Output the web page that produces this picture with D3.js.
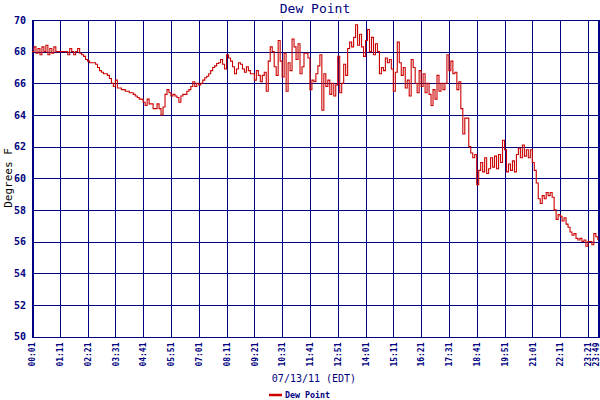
<!DOCTYPE html>
<html>
<head>
<meta charset="utf-8">
<script src="https://cdn.jsdelivr.net/npm/d3@7"></script>
<style>
  html, body { margin: 0; padding: 0; background: #ffffff; }
  svg { display: block; }
</style>
</head>
<body>
<svg id="chart" width="600" height="400"></svg>
<script>
// ---- data ----
const startMinute = 1;        // 00:01
const stepMinutes = 5;
const endMinute = 1429;       // 23:49
const dewPoint = [
  68.0,68.3,67.9,68.2,67.8,68.3,68.0,68.4,67.8,68.2,
  67.9,68.3,68.0,68.0,68.0,68.0,68.0,68.0,67.8,68.2,
  68.0,67.8,68.0,68.2,67.9,67.8,67.7,67.5,67.4,67.3,
  67.3,67.3,67.2,67.0,66.8,66.7,66.6,66.6,66.5,66.3,
  66.0,65.8,66.2,65.7,65.7,65.6,65.6,65.5,65.5,65.4,
  65.4,65.3,65.2,65.1,65.0,65.0,64.8,64.6,65.0,64.7,
  64.7,64.4,64.4,64.7,64.4,64.0,64.5,65.3,65.6,65.4,
  65.2,65.3,65.2,65.1,64.8,65.2,65.3,65.3,65.5,65.6,
  65.8,66.1,65.8,66.0,65.9,66.0,66.2,66.35,66.45,66.6,
  66.8,67.0,67.1,67.25,67.3,67.5,67.2,66.9,67.8,67.6,
  67.4,67.05,66.6,66.9,67.3,67.2,66.9,66.7,67.05,66.8,
  66.6,66.6,66.2,66.8,66.5,66.1,66.5,66.7,65.5,67.4,
  68.3,68.0,67.05,66.5,68.7,67.4,66.4,67.9,65.5,67.3,
  66.8,68.8,68.3,67.5,68.5,66.6,67.05,67.9,67.9,67.6,
  65.6,66.2,66.1,66.6,67.1,67.8,64.3,66.6,65.8,66.2,
  65.3,66.0,65.2,65.9,67.7,65.4,66.0,67.2,66.5,68.2,
  68.6,68.3,68.9,69.7,68.4,69.1,68.3,67.7,68.7,69.4,
  68.0,68.9,67.8,68.5,68.0,66.6,67.0,66.8,67.6,67.3,
  67.5,66.9,65.5,66.7,68.6,67.3,66.5,67.0,65.7,66.2,
  65.2,67.5,67.0,66.0,65.4,66.8,65.8,66.6,65.4,66.0,
  65.3,64.6,65.6,65.0,66.5,65.5,66.0,65.6,66.0,67.8,
  66.8,67.4,66.6,66.7,65.6,66.1,64.4,62.8,63.8,63.8,
  62.0,61.6,61.3,61.5,59.6,60.5,61.0,60.4,61.3,60.3,
  60.6,61.3,60.7,61.4,60.6,61.5,61.0,62.4,61.8,60.4,
  60.9,60.5,61.1,60.4,61.5,61.9,61.3,62.1,61.4,61.8,
  61.3,61.8,61.0,60.5,59.7,58.7,58.4,58.9,58.7,59.1,
  58.9,59.1,58.8,58.0,57.4,57.7,57.6,57.3,57.5,57.1,
  56.9,56.6,56.4,56.5,56.2,56.1,56.2,56.0,56.1,55.7,
  56.0,56.0,55.8,56.5,56.3,56.1
];
const tickMinutes = [1,71,141,211,281,351,421,491,561,631,701,771,841,911,981,1051,1121,1191,1261,1331,1401,1429];
const tickLabels = ["00:01","01:11","02:21","03:31","04:41","05:51","07:01","08:11","09:21","10:31","11:41","12:51","14:01","15:11","16:21","17:31","18:41","19:51","21:01","22:11","23:21","23:49"];
const yTicks = [50,52,54,56,58,60,62,64,66,68,70];
const chartTitle = "Dew Point";
const xTitle = "07/13/11 (EDT)";
const yTitle = "Degrees F";
const seriesName = "Dew Point";

// ---- drawing ----
(function draw() {
  const navy = "#000080";
  const red = "#cc0000";
  const svg = d3.select("#chart");
  const pLeft = 32, pRight = 599, pTop = 20, pBottom = 336.5;

  const x = d3.scaleLinear().domain([startMinute, endMinute]).range([pLeft, pRight]);
  const y = d3.scaleLinear().domain([50, 70]).range([pBottom, pTop]);

  const points = dewPoint.map((v, i) => ({ t: startMinute + i * stepMinutes, v }));

  // grid
  const grid = svg.append("g").attr("shape-rendering", "crispEdges");
  grid.selectAll("line.h").data(yTicks).join("line")
    .attr("x1", pLeft).attr("x2", pRight)
    .attr("y1", d => Math.round(y(d)) + 0.5).attr("y2", d => Math.round(y(d)) + 0.5)
    .attr("stroke", navy).attr("stroke-width", 1);
  grid.selectAll("line.v").data(tickMinutes).join("line")
    .attr("x1", d => Math.round(x(d)) + 0.5).attr("x2", d => Math.round(x(d)) + 0.5)
    .attr("y1", pTop).attr("y2", pBottom + 1)
    .attr("stroke", navy).attr("stroke-width", 1);

  // frame edges (thicker left/right)
  svg.append("rect").attr("x", pLeft).attr("y", pTop).attr("width", 2).attr("height", pBottom - pTop + 1).attr("fill", navy);
  svg.append("rect").attr("x", pRight - 1).attr("y", pTop).attr("width", 3).attr("height", pBottom - pTop + 1).attr("fill", navy);

  // series line
  const line = d3.line().x(d => x(d.t)).y(d => y(d.v)).curve(d3.curveStepAfter);
  svg.append("path").datum(points)
    .attr("d", line)
    .attr("fill", "none")
    .attr("stroke", red)
    .attr("stroke-width", 1.1);

  // y axis labels
  const yAxis = d3.axisLeft(y).tickValues(yTicks).tickSize(0).tickPadding(6);
  const gy = svg.append("g").attr("transform", `translate(${pLeft},0)`).call(yAxis);
  gy.select(".domain").remove();
  gy.selectAll("text")
    .attr("fill", navy)
    .style("font-family", "'DejaVu Sans Mono', monospace")
    .style("font-size", "10px")
    .style("font-weight", "bold");

  // x axis labels (rotated)
  const xAxis = d3.axisBottom(x).tickValues(tickMinutes).tickFormat((d, i) => tickLabels[i]).tickSize(0);
  const gx = svg.append("g").attr("transform", `translate(0,${pBottom})`).call(xAxis);
  gx.select(".domain").remove();
  gx.selectAll("text")
    .attr("fill", navy)
    .attr("transform", "rotate(-90)")
    .attr("x", -6).attr("y", (d, i) => i === tickMinutes.length - 1 ? -3 : 0).attr("dy", "0.35em")
    .attr("text-anchor", "end")
    .style("font-family", "'DejaVu Sans Mono', monospace")
    .style("font-size", "8px")
    .style("font-weight", "bold");

  // titles
  svg.append("text").attr("x", 315).attr("y", 13).attr("text-anchor", "middle")
    .attr("fill", navy)
    .style("font-family", "'DejaVu Sans Mono', monospace").style("font-size", "13px")
    .text(chartTitle);
  svg.append("text").attr("x", 314).attr("y", 382).attr("text-anchor", "middle")
    .attr("fill", navy)
    .style("font-family", "'DejaVu Sans Mono', monospace").style("font-size", "10px")
    .text(xTitle);
  svg.append("text").attr("transform", "translate(12,178) rotate(-90)").attr("text-anchor", "middle")
    .attr("fill", "#000000")
    .style("font-family", "'DejaVu Sans Mono', monospace").style("font-size", "11px")
    .text(yTitle);

  // legend
  svg.append("line").attr("x1", 269).attr("x2", 282).attr("y1", 395).attr("y2", 395)
    .attr("stroke", red).attr("stroke-width", 2.5);
  svg.append("text").attr("x", 285).attr("y", 398)
    .attr("fill", navy)
    .style("font-family", "'DejaVu Sans Mono', monospace").style("font-size", "8.3px").style("font-weight", "bold")
    .text(seriesName);
})();
</script>
</body>
</html>
